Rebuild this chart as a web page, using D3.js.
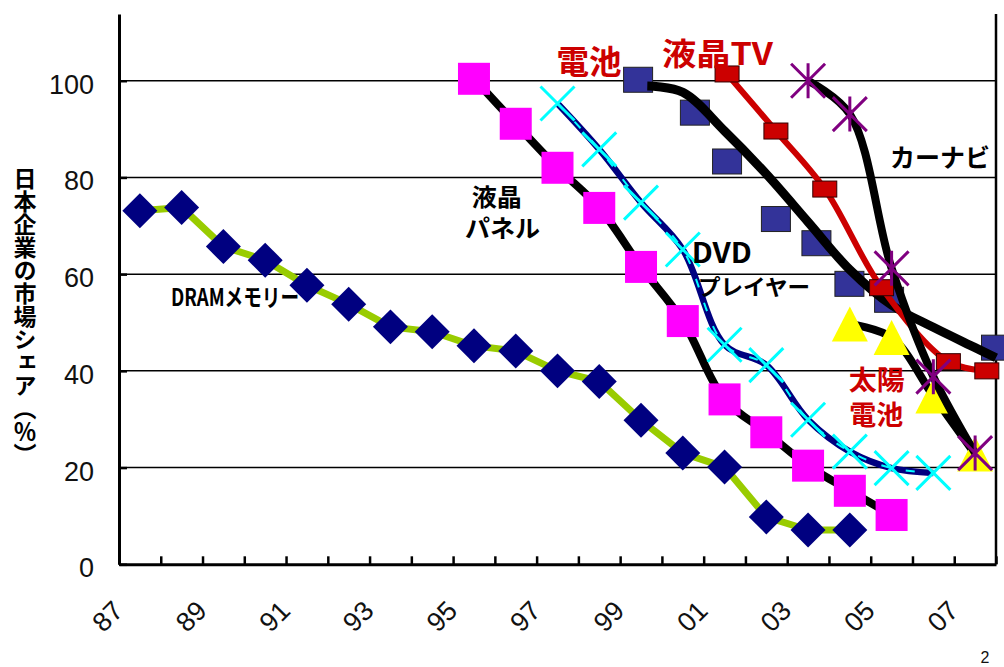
<!DOCTYPE html>
<html>
<head>
<meta charset="utf-8">
<script src="https://cdn.jsdelivr.net/npm/d3@7"></script>
<style>
  body { margin: 0; background: #fff; }
  svg { display: block; }
</style>
</head>
<body>
<svg id="chart" width="1004" height="667"></svg>
<script>
// ---- data: Japanese companies' world market share (%) by product ----
const labelYears = [1987, 1989, 1991, 1993, 1995, 1997, 1999, 2001, 2003, 2005, 2007];
const tickLabels = ["87", "89", "91", "93", "95", "97", "99", "01", "03", "05", "07"];
const shareTicks = [0, 20, 40, 60, 80, 100];

const dramYears = [1987, 1988, 1989, 1990, 1991, 1992, 1993, 1994, 1995, 1996, 1997, 1998, 1999, 2000, 2001, 2002, 2003, 2004];
const dramShare = [73.1, 73.8, 65.7, 62.9, 57.7, 53.8, 49.1, 48.1, 45.2, 44.1, 40.0, 37.8, 29.8, 23.0, 20.1, 9.8, 7.1, 7.1];

const panelYears = [1995, 1996, 1997, 1998, 1999, 2000, 2001, 2002, 2003, 2004, 2005];
const panelShare = [100.4, 91.1, 82.0, 73.7, 61.5, 50.3, 34.1, 27.3, 20.4, 15.2, 10.2];

const dvdYears = [1997, 1998, 1999, 2000, 2001, 2002, 2003, 2004, 2005, 2006];
const dvdShare = [95.3, 85.8, 74.8, 65.1, 45.4, 41.2, 29.9, 23.3, 19.9, 18.9];

const batteryYears = [1998.93, 2000.29, 2001.06, 2002.23, 2003.2, 2003.99, 2004.94, 2007.5];
const batteryShare = [100.2, 93.4, 83.3, 71.4, 66.4, 58.0, 54.7, 44.8];

const batteryTrendYears = [1999.15, 2000, 2001, 2002, 2003, 2004, 2005, 2006, 2007, 2007.5];
const batteryTrendShare = [98.9, 97.6, 89.6, 80.7, 70.8, 60.9, 53.6, 49.0, 44.8, 42.7];

const tvYears = [2001.06, 2002.23, 2003.4, 2004.76, 2006.36, 2007.28];
const tvShare = [101.4, 89.6, 77.6, 57.2, 41.9, 40.0];

const naviYears = [2003, 2004, 2005, 2006, 2007];
const naviShare = [100.0, 93.1, 61.2, 38.8, 23.0];

const solarYears = [2004, 2005, 2006, 2007];
const solarShare = [49.7, 46.9, 34.8, 22.8];

// ---- layout ----
const svg = d3.select("#chart");
const plotLeft = 119, plotRight = 996, plotTop = 14, plotBottom = 564.3;
const x = d3.scaleLinear().domain([1986.5, 2007.5]).range([plotLeft, plotRight]);
const y = d3.scaleLinear().domain([0, 113.8]).range([plotBottom, plotTop]);

const numFont = "'Liberation Sans', Arial, sans-serif";
const jpFont = "'Noto Sans CJK JP', 'Noto Sans', sans-serif";

const pts = (xs, vs) => xs.map((t, i) => ({ t, v: vs[i] }));
const smooth = d3.line().x(d => x(d.t)).y(d => y(d.v)).curve(d3.curveCatmullRom.alpha(0.5));
const straight = d3.line().x(d => x(d.t)).y(d => y(d.v));

// horizontal gridlines
svg.append("g")
  .selectAll("line")
  .data(shareTicks.filter(d => d > 0))
  .join("line")
  .attr("x1", plotLeft).attr("x2", plotRight)
  .attr("y1", d => y(d)).attr("y2", d => y(d))
  .attr("stroke", "#000").attr("stroke-width", 1.5);

// right border
svg.append("line")
  .attr("x1", plotRight).attr("x2", plotRight).attr("y1", plotTop).attr("y2", plotBottom)
  .attr("stroke", "#000").attr("stroke-width", 2.5);

// value axis
const yAxis = svg.append("g")
  .attr("transform", `translate(${plotLeft},0)`)
  .call(d3.axisLeft(y).tickValues(shareTicks).tickSizeInner(-8).tickSizeOuter(0).tickPadding(25));
yAxis.select(".domain").attr("stroke-width", 3);
yAxis.selectAll(".tick line").attr("stroke-width", 2.5);
yAxis.selectAll(".tick text")
  .attr("font-family", numFont).attr("font-size", 27).attr("fill", "#111")
  .attr("dy", "0.46em");

// category axis: ticks between years
const boundaries = d3.range(1986.5, 2008, 1);
const xAxis = svg.append("g")
  .attr("transform", `translate(0,${plotBottom})`)
  .call(d3.axisBottom(x).tickValues(boundaries).tickSizeInner(-8).tickSizeOuter(0).tickFormat(""));
xAxis.select(".domain").attr("stroke-width", 3);
xAxis.selectAll(".tick line").attr("stroke-width", 2.5);

// rotated year labels
const xLabels = svg.append("g")
  .attr("transform", `translate(0,${plotBottom})`)
  .call(d3.axisBottom(x).tickValues(labelYears).tickSize(0).tickFormat((d, i) => tickLabels[i]));
xLabels.select(".domain").remove();
xLabels.selectAll(".tick text")
  .attr("font-family", numFont).attr("font-size", 27).attr("fill", "#111")
  .attr("text-anchor", "end")
  .attr("x", 0).attr("y", 0).attr("dy", 0)
  .attr("transform", "translate(-15.6,48) rotate(-45)");

// ---- series ----
const marks = svg.append("g");

// DRAM memory
marks.append("path").attr("d", straight(pts(dramYears, dramShare)))
  .attr("fill", "none").attr("stroke", "#99cc00").attr("stroke-width", 7).attr("stroke-linejoin", "round");
marks.append("g").selectAll("path").data(pts(dramYears, dramShare)).join("path")
  .attr("d", d3.symbol(d3.symbolSquare, 612)())
  .attr("transform", d => `translate(${x(d.t)},${y(d.v)}) rotate(45)`)
  .attr("fill", "#000080");

// LCD panels
marks.append("path").attr("d", smooth(pts(panelYears, panelShare)))
  .attr("fill", "none").attr("stroke", "#000").attr("stroke-width", 8);
marks.append("g").selectAll("rect").data(pts(panelYears, panelShare)).join("rect")
  .attr("x", d => x(d.t) - 16).attr("y", d => y(d.v) - 16)
  .attr("width", 32).attr("height", 32)
  .attr("fill", "#ff00ff");

// DVD players
marks.append("path").attr("d", smooth(pts(dvdYears, dvdShare)))
  .attr("fill", "none").attr("stroke", "#000080").attr("stroke-width", 6.5);
marks.append("path").attr("d", smooth(pts(dvdYears, dvdShare)))
  .attr("fill", "none").attr("stroke", "#00ffff").attr("stroke-width", 2)
  .attr("stroke-dasharray", "9,16");
marks.append("g").selectAll("path").data(pts(dvdYears, dvdShare)).join("path")
  .attr("d", "M-17,-17L17,17M-17,17L17,-17")
  .attr("transform", d => `translate(${x(d.t)},${y(d.v)})`)
  .attr("fill", "none").attr("stroke", "#00ffff").attr("stroke-width", 3);

// batteries: observed shares and fitted curve
marks.append("g").selectAll("rect").data(pts(batteryYears, batteryShare)).join("rect")
  .attr("x", d => x(d.t) - 14.5).attr("y", d => y(d.v) - 12.5)
  .attr("width", 29).attr("height", 25)
  .attr("fill", "#333399").attr("stroke", "#222").attr("stroke-width", 1);
marks.append("path").attr("d", smooth(pts(batteryTrendYears, batteryTrendShare)))
  .attr("fill", "none").attr("stroke", "#000").attr("stroke-width", 9);

// solar cells
marks.append("path").attr("d", smooth(pts(solarYears, solarShare)))
  .attr("fill", "none").attr("stroke", "#000").attr("stroke-width", 8);
marks.append("g").selectAll("path").data(pts(solarYears, solarShare)).join("path")
  .attr("d", "M0,-17.5L18,17.5L-18,17.5Z")
  .attr("transform", d => `translate(${x(d.t)},${y(d.v)})`)
  .attr("fill", "#ffff00");

// LCD TVs
marks.append("path").attr("d", smooth(pts(tvYears, tvShare)))
  .attr("fill", "none").attr("stroke", "#cc0000").attr("stroke-width", 6);
marks.append("g").selectAll("rect").data(pts(tvYears, tvShare)).join("rect")
  .attr("x", d => x(d.t) - 12).attr("y", d => y(d.v) - 8)
  .attr("width", 24).attr("height", 16)
  .attr("fill", "#cc0000").attr("stroke", "#330000").attr("stroke-width", 1);

// car navigation
marks.append("path").attr("d", smooth(pts(naviYears, naviShare)))
  .attr("fill", "none").attr("stroke", "#000").attr("stroke-width", 8);
marks.append("g").selectAll("path").data(pts(naviYears, naviShare)).join("path")
  .attr("d", "M-17,-17L17,17M-17,17L17,-17M0,-17.5V17.5")
  .attr("transform", d => `translate(${x(d.t)},${y(d.v)})`)
  .attr("fill", "none").attr("stroke", "#800080").attr("stroke-width", 3);

// ---- series labels ----
const labels = [
  { text: "電池", cx: 589, cy: 60, size: 33, w: 65, color: "#cc0000" },
  { text: "液晶TV", cx: 717.5, cy: 51.5, size: 31, w: 111, color: "#cc0000" },
  { text: "カーナビ", cx: 940, cy: 156, size: 25, w: 100, color: "#000" },
  { text: "液晶", cx: 496.7, cy: 195, size: 24, w: 50, color: "#000" },
  { text: "パネル", cx: 502.5, cy: 226.5, size: 24, w: 75, color: "#000" },
  { text: "DVD", cx: 721.7, cy: 251, size: 28, w: 60, color: "#000" },
  { text: "プレイヤー", cx: 754, cy: 285, size: 22, w: 112, color: "#000" },
  { text: "DRAMメモリー", cx: 235, cy: 295, size: 24, w: 128, color: "#000" },
  { text: "太陽", cx: 876.7, cy: 378, size: 27, w: 56, color: "#cc0000" },
  { text: "電池", cx: 876.3, cy: 413.5, size: 27, w: 54, color: "#cc0000" }
];
svg.append("g").selectAll("text").data(labels).join("text")
  .attr("x", d => d.cx).attr("y", d => d.cy)
  .attr("text-anchor", "middle").attr("dominant-baseline", "central")
  .attr("font-family", jpFont).attr("font-weight", 700)
  .attr("font-size", d => d.size)
  .attr("textLength", d => d.w).attr("lengthAdjust", "spacingAndGlyphs")
  .attr("fill", d => d.color)
  .text(d => d.text);

// value axis title (vertical, with vertical-form brackets)
svg.append("text")
  .attr("x", 25).attr("y", 167)
  .attr("font-family", jpFont).attr("font-weight", 700).attr("font-size", 23)
  .style("writing-mode", "vertical-rl")
  .style("text-orientation", "upright")
  .attr("fill", "#000")
  .text("日本企業の市場シェア︵％︶");

// page number
svg.append("text")
  .attr("x", 985).attr("y", 663)
  .attr("text-anchor", "middle")
  .attr("font-family", numFont).attr("font-size", 16).attr("fill", "#111")
  .text("2");
</script>
</body>
</html>
